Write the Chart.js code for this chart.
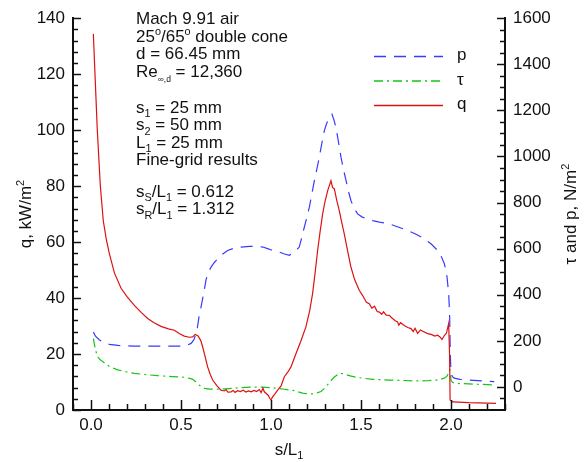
<!DOCTYPE html>
<html>
<head>
<meta charset="utf-8">
<script src="https://cdn.jsdelivr.net/npm/chart.js@4.4.1/dist/chart.umd.min.js"></script>
<style>
  html, body { margin: 0; padding: 0; background: #fff; }
  #wrap { width: 588px; height: 462px; }
</style>
</head>
<body>
<div id="wrap"><canvas id="c" width="588" height="462"></canvas></div>
<script>
// s/L1 positions and values for each curve
const sQ = [0.013, 0.035, 0.052, 0.068, 0.085, 0.102, 0.13, 0.167, 0.2, 0.241, 0.28, 0.315, 0.35, 0.389, 0.43, 0.463, 0.49, 0.518, 0.545, 0.565, 0.579, 0.595, 0.61, 0.62, 0.635, 0.648, 0.662, 0.676, 0.7, 0.722, 0.74, 0.75, 0.76, 0.778, 0.79, 0.8, 0.815, 0.83, 0.845, 0.86, 0.875, 0.89, 0.905, 0.92, 0.935, 0.945, 0.955, 0.963, 0.975, 0.985, 0.993, 1.0, 1.008, 1.02, 1.037, 1.056, 1.074, 1.094, 1.111, 1.139, 1.165, 1.194, 1.215, 1.231, 1.245, 1.259, 1.273, 1.287, 1.3, 1.315, 1.333, 1.342, 1.352, 1.365, 1.379, 1.393, 1.407, 1.425, 1.444, 1.465, 1.491, 1.51, 1.53, 1.546, 1.56, 1.575, 1.59, 1.602, 1.615, 1.625, 1.64, 1.657, 1.675, 1.69, 1.703, 1.71, 1.72, 1.74, 1.76, 1.778, 1.79, 1.8, 1.815, 1.83, 1.852, 1.87, 1.89, 1.91, 1.926, 1.94, 1.95, 1.963, 1.975, 1.987, 1.992, 1.995, 2.01, 2.1, 2.25];
const q = [134.4, 100, 80, 67.7, 61, 55.9, 49, 43.5, 40.5, 37.4, 34.8, 32.7, 31.2, 29.9, 29.0, 28.5, 27.3, 26.4, 26.0, 26.1, 27.0, 26.5, 24.8, 22.6, 18.8, 15.4, 12.8, 10.7, 8.6, 7.1, 6.8, 7.3, 6.4, 6.5, 7.0, 6.3, 6.9, 6.6, 7.1, 6.4, 6.8, 6.5, 7.0, 6.6, 7.3, 6.2, 7.8, 6.5, 5.8, 5.2, 4.2, 3.6, 4.6, 5.6, 7.1, 8.6, 11.9, 13.6, 15.4, 20.2, 24.5, 29.7, 35.5, 41.6, 49, 57.0, 63.8, 70.1, 74.5, 78.4, 81.9, 79.5, 79.0, 75, 71.3, 67, 62.9, 57, 51.1, 46.5, 42.7, 40.8, 38.5, 38.0, 36.4, 37.1, 35.2, 35.0, 34.2, 35.1, 33.9, 33.8, 32.7, 31.9, 31.5, 30.3, 31.2, 30.2, 29.5, 29.1, 28.0, 29.2, 27.4, 28.6, 27.9, 27.3, 27.0, 26.4, 26.7, 26.0, 25.2, 26.6, 27.5, 30.9, 20, 3.6, 2.9, 2.6, 2.4];

const sP = [0.013, 0.025, 0.046, 0.07, 0.102, 0.15, 0.241, 0.35, 0.5, 0.53, 0.556, 0.572, 0.583, 0.59, 0.6, 0.612, 0.624, 0.639, 0.653, 0.667, 0.685, 0.704, 0.73, 0.759, 0.795, 0.833, 0.88, 0.926, 0.955, 0.981, 1.01, 1.046, 1.075, 1.102, 1.13, 1.157, 1.17, 1.185, 1.2, 1.213, 1.227, 1.241, 1.255, 1.268, 1.282, 1.296, 1.31, 1.324, 1.339, 1.35, 1.361, 1.375, 1.389, 1.403, 1.417, 1.43, 1.444, 1.462, 1.481, 1.505, 1.528, 1.565, 1.602, 1.63, 1.657, 1.667, 1.71, 1.759, 1.8, 1.852, 1.89, 1.926, 1.945, 1.963, 1.971, 1.978, 1.987, 1.991, 1.993, 1.996, 2.0, 2.008, 2.018, 2.05, 2.092, 2.17, 2.24];
const p = [238, 220, 205, 193, 185, 180, 177, 177, 177, 180, 189, 205, 232, 252, 304, 350, 398, 465, 500, 520, 540, 556, 576, 592, 602, 607, 610, 610, 607, 600, 592, 585, 577, 571, 585, 607, 645, 693, 738, 780, 838, 895, 946, 996, 1055, 1111, 1145, 1169, 1183, 1158, 1126, 1062, 996, 942, 895, 850, 809, 775, 751, 738, 730, 722, 715, 712, 708, 705, 693, 679, 665, 643, 620, 592, 568, 535, 508, 477, 405, 340, 290, 146, 59, 45, 38, 33, 30, 26, 23];

const sTau = [0.013, 0.025, 0.037, 0.05, 0.065, 0.1, 0.148, 0.2, 0.241, 0.3, 0.37, 0.45, 0.518, 0.545, 0.565, 0.58, 0.6, 0.615, 0.63, 0.66, 0.7, 0.75, 0.8, 0.889, 0.95, 1.0, 1.04, 1.074, 1.1, 1.13, 1.176, 1.205, 1.231, 1.255, 1.278, 1.3, 1.324, 1.35, 1.379, 1.395, 1.407, 1.44, 1.472, 1.52, 1.565, 1.657, 1.74, 1.815, 1.87, 1.926, 1.963, 1.978, 1.985, 1.993, 1.997, 2.0, 2.008, 2.018, 2.1, 2.24];
const tau = [210, 160, 131, 119, 110, 90, 74, 65, 59, 54, 49, 45, 42, 38, 33, 24, 9, 1, -6, -9, -10, -8, -5, -1, -1, -3, -6, -10, -13, -16, -27, -30, -30, -26, -20, -4, 19, 42, 59, 58, 56, 48, 42, 37, 33, 30, 28, 26, 27, 30, 38, 47, 59, 74, 52, 30, 20, 16, 13, 9];

const xTicks = [0, 0.5, 1.0, 1.5, 2.0];
const qTicks = [0, 20, 40, 60, 80, 100, 120, 140];
const pTicks = [0, 200, 400, 600, 800, 1000, 1200, 1400, 1600];

const FONT = '"Liberation Sans", Arial, Helvetica, sans-serif';
const FS = 17;

const pts = (xs, ys) => xs.map((x, i) => ({ x: x, y: ys[i] }));

// text runs: [text, mode] where mode is sub / sup / sub2 (smaller subscript)
const notes = [
  { y: 24,    segs: [['Mach 9.91 air']] },
  { y: 41.7,  segs: [['25'], ['o', 'sup'], ['/65'], ['o', 'sup'], [' double cone']] },
  { y: 59.3,  segs: [['d = 66.45 mm']] },
  { y: 77,    segs: [['Re'], ['\u221E,d', 'sub2'], [' = 12,360']] },
  { y: 112.7, segs: [['s'], ['1', 'sub'], [' = 25 mm']] },
  { y: 130.2, segs: [['s'], ['2', 'sub'], [' = 50 mm']] },
  { y: 147.8, segs: [['L'], ['1', 'sub'], [' = 25 mm']] },
  { y: 165.4, segs: [['Fine-grid results']] },
  { y: 196.8, segs: [['s'], ['S', 'sub'], ['/L'], ['1', 'sub'], [' = 0.612']] },
  { y: 214.4, segs: [['s'], ['R', 'sub'], ['/L'], ['1', 'sub'], [' = 1.312']] }
];

function segFont(mode) {
  if (mode === 'sub' || mode === 'sup') return { fs: FS * 0.64, dy: mode === 'sub' ? FS * 0.26 : -FS * 0.42 };
  if (mode === 'sub2') return { fs: FS * 0.5, dy: FS * 0.3 };
  return { fs: FS, dy: 0 };
}

function richWidth(ctx, segs) {
  let w = 0;
  segs.forEach(([t, m]) => { ctx.font = segFont(m).fs + 'px ' + FONT; w += ctx.measureText(t).width; });
  return w;
}

function drawRich(ctx, x, y, segs) {
  segs.forEach(([t, m]) => {
    const f = segFont(m);
    ctx.font = f.fs + 'px ' + FONT;
    ctx.fillText(t, x, y + f.dy);
    x += ctx.measureText(t).width;
  });
}

// inward tick marks on the three axes
const tickMarks = {
  id: 'tickMarks',
  afterDatasetsDraw(chart) {
    const { ctx, chartArea: a, scales } = chart;
    ctx.save();
    ctx.strokeStyle = '#111';
    ctx.lineWidth = 1.5;
    const line = (x1, y1, x2, y2) => { ctx.beginPath(); ctx.moveTo(x1, y1); ctx.lineTo(x2, y2); ctx.stroke(); };
    for (let i = -1; i <= 23; i++) {
      const v = i / 10;
      const px = Math.round(scales.x.getPixelForValue(v)) + 0.5;
      line(px, a.bottom, px, a.bottom - (i % 5 === 0 ? 10 : 6));
    }
    for (let v = 0; v <= 140; v += 4) {
      const py = Math.round(scales.y.getPixelForValue(v)) + 0.5;
      line(a.left, py, a.left + (v % 20 === 0 ? 8 : 5), py);
    }
    for (let v = -50; v <= 1600; v += 50) {
      const py = Math.round(scales.y1.getPixelForValue(v)) + 0.5;
      line(a.right, py, a.right - (v % 200 === 0 ? 8 : 5), py);
    }
    ctx.restore();
  }
};

// case notes, legend and axis titles
const labels = {
  id: 'labels',
  afterDraw(chart) {
    const { ctx, chartArea: a } = chart;
    ctx.save();
    ctx.fillStyle = '#111';
    ctx.textBaseline = 'alphabetic';
    ctx.textAlign = 'left';
    notes.forEach(n => drawRich(ctx, 136, n.y, n.segs));

    // legend
    const ly = [56.5, 81, 105.5];
    chart.data.datasets.forEach((ds, i) => {
      ctx.save();
      ctx.strokeStyle = ds.borderColor;
      ctx.lineWidth = 1.6;
      ctx.setLineDash(ds.borderDash || []);
      ctx.beginPath();
      ctx.moveTo(374, ly[i]);
      ctx.lineTo(443, ly[i]);
      ctx.stroke();
      ctx.restore();
      ctx.font = FS + 'px ' + FONT;
      ctx.textBaseline = 'middle';
      ctx.fillText(ds.label, 457, ly[i] - 1);
    });
    ctx.textBaseline = 'alphabetic';

    // x title
    const xt = [['s/L'], ['1', 'sub']];
    drawRich(ctx, (a.left + a.right) / 2 - richWidth(ctx, xt) / 2, 455, xt);

    const rot = (x, segs) => {
      ctx.save();
      ctx.translate(x, (a.top + a.bottom) / 2);
      ctx.rotate(-Math.PI / 2);
      drawRich(ctx, -richWidth(ctx, segs) / 2, 0, segs);
      ctx.restore();
    };
    rot(31, [['q, kW/m'], ['2', 'sup']]);
    rot(576, [['\u03C4 and p, N/m'], ['2', 'sup']]);
    ctx.restore();
  }
};

const tickFont = { family: FONT, size: FS };

new Chart(document.getElementById('c'), {
  type: 'line',
  data: {
    datasets: [
      { label: 'p', data: pts(sP, p), yAxisID: 'y1', borderColor: '#3a3aff', borderDash: [12, 8], borderWidth: 1.2, order: 2 },
      { label: '\u03C4', data: pts(sTau, tau), yAxisID: 'y1', borderColor: '#16c416', borderDash: [9, 4, 2, 4], borderWidth: 1.2, order: 1 },
      { label: 'q', data: pts(sQ, q), yAxisID: 'y', borderColor: '#dd1111', borderWidth: 1.2, order: 0 }
    ]
  },
  options: {
    responsive: false,
    animation: false,
    layout: { padding: { top: 17, left: 0, right: 0, bottom: 0 } },
    elements: { point: { radius: 0 }, line: { tension: 0 } },
    plugins: { legend: { display: false }, tooltip: { enabled: false } },
    scales: {
      x: {
        type: 'linear', min: -0.1, max: 2.3,
        grid: { display: false, drawTicks: false },
        border: { display: true, color: '#111', width: 2 },
        afterBuildTicks: s => { s.ticks = xTicks.map(v => ({ value: v })); },
        afterFit: s => { s.height = 52; },
        ticks: { color: '#111', font: tickFont, padding: 5, maxRotation: 0, autoSkip: false, callback: v => v.toFixed(1) }
      },
      y: {
        position: 'left', min: 0, max: 140,
        grid: { display: false, drawTicks: false },
        border: { display: true, color: '#111', width: 2 },
        afterBuildTicks: s => { s.ticks = qTicks.map(v => ({ value: v })); },
        afterFit: s => { s.width = 73; },
        ticks: { color: '#111', font: tickFont, padding: 8, callback: v => String(v) }
      },
      y1: {
        position: 'right', min: -100, max: 1600,
        grid: { display: false, drawTicks: false },
        border: { display: true, color: '#111', width: 2 },
        afterBuildTicks: s => { s.ticks = pTicks.map(v => ({ value: v })); },
        afterFit: s => { s.width = 83; },
        ticks: { color: '#111', font: tickFont, padding: 8, callback: v => String(v) }
      }
    }
  },
  plugins: [tickMarks, labels]
});
</script>
</body>
</html>
